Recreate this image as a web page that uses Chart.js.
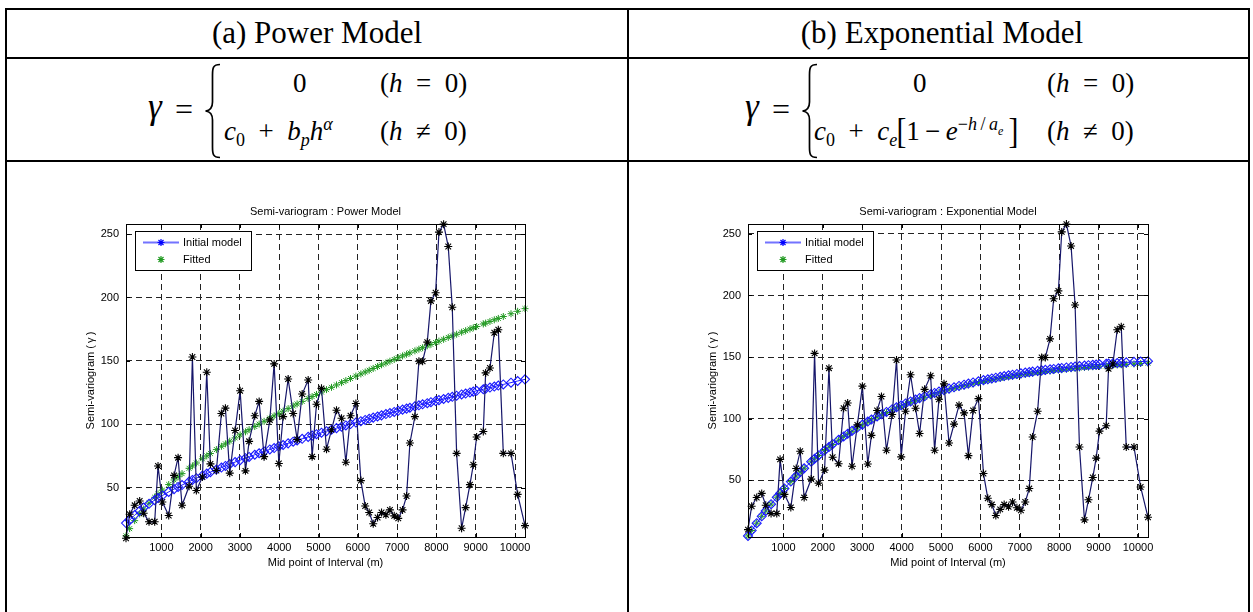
<!DOCTYPE html>
<html>
<head>
<meta charset="utf-8">
<title>Semi-variogram models</title>
<script src="https://cdn.jsdelivr.net/npm/chart.js@4.4.1/dist/chart.umd.min.js"></script>
<style>
    html, body { margin: 0; padding: 0; background: #fff; }
    body { width: 1253px; height: 612px; position: relative; overflow: hidden;
           font-family: 'Liberation Serif', 'Times New Roman', serif; color: #000; }
    .hl, .vl { position: absolute; background: #000; }
    .hl { height: 2px; }
    .vl { width: 2px; }
    .head { position: absolute; top: 13px; width: 620px; font-size: 31px; line-height: 40px; text-align: center; }
    .f { position: absolute; font-family: 'Liberation Serif', serif; font-size: 27px; line-height: 30px; white-space: nowrap; }
    .f sub, .f sup { font-size: 18px; line-height: 0; }
    .f sup sub { font-size: 12px; }
    .bk { display: inline-block; transform: scale(1.1, 1.35); }
    .brace { position: absolute; }
    canvas { position: absolute; }
</style>
</head>
<body>

<!-- table lines -->
<div class="hl" style="left:5px; top:8px; width:1245px;"></div>
<div class="hl" style="left:5px; top:57px; width:1245px;"></div>
<div class="hl" style="left:5px; top:160px; width:1245px;"></div>
<div class="vl" style="left:5px; top:8px; height:604px;"></div>
<div class="vl" style="left:627px; top:8px; height:604px;"></div>
<div class="vl" style="left:1248px; top:8px; height:604px;"></div>

<div class="head" style="left:7px;">(a) Power Model</div>
<div class="head" style="left:632px;">(b) Exponential Model</div>

<!-- (a) formula -->
<div class="f" style="left:148px; top:92px; font-size:35px;"><i>γ</i></div>
<div class="f" style="left:175px; top:94px; font-size:32px;">=</div>
<svg class="brace" style="left:204px; top:63px;" width="18" height="96" viewBox="0 0 18 96">
    <path d="M16,1.5 C9,1.5 8.5,5 8.5,12 L8.5,39 C8.5,45 6.5,47.5 1.5,48 C6.5,48.5 8.5,51 8.5,57 L8.5,84 C8.5,91 9,94.5 16,94.5" fill="none" stroke="#000" stroke-width="1.7"/>
</svg>
<div class="f" style="left:293px; top:68px;">0</div>
<div class="f" style="left:380px; top:68px;">(<i>h</i>&#8194;=&#8194;0)</div>
<div class="f" style="left:224px; top:116px;"><i>c</i><sub>0</sub>&#8194;+&#8194;<i>b</i><sub><i>p</i></sub><i>h</i><sup><i>α</i></sup></div>
<div class="f" style="left:380px; top:116px;">(<i>h</i>&#8194;≠&#8194;0)</div>

<!-- (b) formula -->
<div class="f" style="left:745px; top:92px; font-size:35px;"><i>γ</i></div>
<div class="f" style="left:772px; top:94px; font-size:32px;">=</div>
<svg class="brace" style="left:801px; top:63px;" width="18" height="96" viewBox="0 0 18 96">
    <path d="M16,1.5 C9,1.5 8.5,5 8.5,12 L8.5,39 C8.5,45 6.5,47.5 1.5,48 C6.5,48.5 8.5,51 8.5,57 L8.5,84 C8.5,91 9,94.5 16,94.5" fill="none" stroke="#000" stroke-width="1.7"/>
</svg>
<div class="f" style="left:913px; top:68px;">0</div>
<div class="f" style="left:1047px; top:68px;">(<i>h</i>&#8194;=&#8194;0)</div>
<div class="f" style="left:814px; top:116px;"><i>c</i><sub>0</sub>&#8194;+&#8194;<i>c</i><sub><i>e</i></sub><span class="bk">[</span>1&#8201;−&#8201;<i>e</i><sup>−<i>h</i>&#8201;/&#8201;<i>a</i><sub><i>e</i></sub></sup>&#8201;<span class="bk">]</span></div>
<div class="f" style="left:1047px; top:116px;">(<i>h</i>&#8194;≠&#8194;0)</div>

<canvas id="powerChart" width="500" height="384" style="left:60px; top:196px;"></canvas>
<canvas id="expChart" width="500" height="384" style="left:682px; top:196px;"></canvas>

<script>
// Mid point of each lag interval (m), shared by all series
var lagX = [100, 193, 321, 448, 550, 686, 830, 915, 1025, 1187,
    1323, 1425, 1526, 1705, 1790, 1891, 2044, 2155, 2248, 2400,
    2528, 2630, 2740, 2876, 3004, 3140, 3233, 3377, 3488, 3615,
    3760, 3870, 3989, 4099, 4226, 4354, 4455, 4583, 4736, 4837,
    4948, 5075, 5203, 5330, 5457, 5585, 5695, 5814, 5950, 6077,
    6187, 6289, 6391, 6502, 6603, 6714, 6816, 6926, 7028, 7138,
    7240, 7325, 7452, 7554, 7648, 7767, 7860, 7979, 8064, 8183,
    8301, 8403, 8514, 8641, 8743, 8853, 8938, 9023, 9193, 9252,
    9362, 9473, 9575, 9702, 9898, 10067, 10254];

// Experimental semi-variogram
var semivar = [10, 29, 36, 39.4, 29.8, 23, 23, 67, 38.6, 28,
    59.6, 73.6, 36, 51, 153, 47.7, 58.3, 141, 68.7, 63.5,
    108.5, 112.7, 61.4, 95, 126.4, 63.2, 86.5, 106.7, 118, 74.4,
    103.4, 147.6, 69, 106, 135.7, 108.5, 88, 123.8, 134.9, 74.4,
    115.8, 128.3, 80.3, 95.6, 111, 104.7, 70, 106.7, 116.3, 55.5,
    35.5, 30.3, 21.5, 26.4, 30.3, 28.5, 32.4, 27.7, 25.7, 32.4,
    43.3, 85.2, 106, 149.7, 149.7, 164.8, 197.3, 203.7, 251.6, 257.9,
    240.2, 192.3, 77, 17.9, 34.2, 52.3, 68, 89.9, 94.3, 140.5,
    144.4, 172.2, 174.6, 77, 77, 44.6, 20];

// Power model: initial and fitted
var powerInitial = [22, 24.3, 28.3, 31.7, 34.2, 37.2, 40.1, 41.7, 43.7, 46.6,
    48.8, 50.5, 52.0, 54.7, 56.0, 57.4, 59.5, 61.0, 62.2, 64.2,
    65.8, 67.1, 68.5, 70.1, 71.6, 73.2, 74.2, 75.9, 77.1, 78.5,
    80.1, 81.2, 82.5, 83.6, 84.9, 86.2, 87.2, 88.5, 90.0, 91.0,
    92.1, 93.3, 94.5, 95.7, 96.9, 98.0, 99.0, 100.1, 101.3, 102.4,
    103.4, 104.3, 105.2, 106.1, 107.0, 108.0, 108.8, 109.7, 110.6, 111.5,
    112.3, 113.0, 114.1, 114.9, 115.7, 116.6, 117.4, 118.3, 119.0, 119.9,
    120.8, 121.6, 122.5, 123.5, 124.2, 125.1, 125.7, 126.4, 127.6, 128.1,
    128.9, 129.7, 130.5, 131.4, 132.8, 134.1, 135.4];
var powerFitted = [11.9, 17.6, 23.9, 29.2, 33.1, 37.7, 42.3, 44.9, 48.0, 52.4,
    56.0, 58.5, 61.0, 65.2, 67.1, 69.4, 72.7, 75.0, 76.9, 80.0,
    82.6, 84.5, 86.6, 89.2, 91.6, 94.0, 95.7, 98.2, 100.1, 102.3,
    104.8, 106.6, 108.5, 110.3, 112.3, 114.4, 116.0, 118.0, 120.3, 121.8,
    123.5, 125.4, 127.3, 129.1, 131.0, 132.8, 134.4, 136.1, 138.0, 139.7,
    141.2, 142.6, 144.0, 145.5, 146.9, 148.3, 149.7, 151.1, 152.5, 153.9,
    155.2, 156.3, 157.9, 159.2, 160.4, 161.9, 163.0, 164.5, 165.6, 167.0,
    168.5, 169.7, 171.0, 172.6, 173.8, 175.1, 176.1, 177.1, 179.1, 179.8,
    181.1, 182.4, 183.5, 185.0, 187.2, 189.1, 191.2];

// Exponential model: initial and fitted
var expInitial = [4.9, 9.3, 15.2, 20.8, 25.1, 30.6, 36.2, 39.4, 43.4, 49.0,
    53.5, 56.7, 59.8, 65.1, 67.5, 70.2, 74.2, 77.0, 79.3, 82.8,
    85.6, 87.8, 90.1, 92.8, 95.2, 97.7, 99.3, 101.8, 103.6, 105.5,
    107.7, 109.3, 110.9, 112.4, 114.0, 115.5, 116.7, 118.2, 119.8, 120.9,
    122.0, 123.2, 124.4, 125.5, 126.6, 127.6, 128.5, 129.4, 130.4, 131.3,
    132.0, 132.7, 133.3, 134.0, 134.6, 135.2, 135.7, 136.3, 136.8, 137.4,
    137.8, 138.2, 138.8, 139.2, 139.6, 140.1, 140.4, 140.9, 141.2, 141.6,
    142.0, 142.3, 142.7, 143.1, 143.4, 143.7, 143.9, 144.1, 144.5, 144.7,
    144.9, 145.2, 145.4, 145.7, 146.1, 146.4, 146.7];
var expFitted = [4.9, 9.3, 15.2, 20.8, 25.1, 30.7, 36.3, 39.4, 43.4, 49.0,
    53.5, 56.7, 59.8, 65.0, 67.4, 70.1, 74.1, 76.9, 79.1, 82.6,
    85.4, 87.6, 89.8, 92.5, 94.9, 97.3, 99.0, 101.3, 103.1, 105.0,
    107.2, 108.7, 110.3, 111.7, 113.3, 114.9, 116.0, 117.4, 119.1, 120.1,
    121.2, 122.4, 123.5, 124.6, 125.7, 126.7, 127.5, 128.4, 129.4, 130.2,
    130.9, 131.6, 132.2, 132.8, 133.4, 134.0, 134.5, 135.1, 135.6, 136.1,
    136.6, 137.0, 137.5, 137.9, 138.3, 138.7, 139.1, 139.5, 139.8, 140.2,
    140.6, 140.9, 141.2, 141.6, 141.9, 142.2, 142.4, 142.6, 143.0, 143.1,
    143.4, 143.6, 143.8, 144.1, 144.5, 144.8, 145.1];

var xTicks = [1000, 2000, 3000, 4000, 5000, 6000, 7000, 8000, 9000, 10000];
var yTicks = [50, 100, 150, 200, 250];

var SANS = '"Liberation Sans", Arial, Helvetica, sans-serif';

function toPoints(ys) {
    return lagX.map(function (x, i) { return { x: x, y: ys[i] }; });
}

function drawStar(ctx, x, y, r, color) {
    var d = r * 0.72;
    ctx.strokeStyle = color;
    ctx.lineWidth = 1.2;
    ctx.beginPath();
    ctx.moveTo(x - r, y); ctx.lineTo(x + r, y);
    ctx.moveTo(x, y - r); ctx.lineTo(x, y + r);
    ctx.moveTo(x - d, y - d); ctx.lineTo(x + d, y + d);
    ctx.moveTo(x - d, y + d); ctx.lineTo(x + d, y - d);
    ctx.stroke();
}

// MATLAB-like frame: box, inward ticks, title, axis labels, legend
var matlabFrame = {
    id: 'matlabFrame',
    afterDraw: function (chart, args, opts) {
        var ctx = chart.ctx;
        var a = chart.chartArea;
        var xs = chart.scales.x, ys = chart.scales.y;
        ctx.save();
        ctx.strokeStyle = '#000';
        ctx.lineWidth = 1;
        ctx.beginPath();
        xTicks.forEach(function (v) {
            var px = Math.round(xs.getPixelForValue(v)) + 0.5;
            ctx.moveTo(px, a.bottom); ctx.lineTo(px, a.bottom - 4);
            ctx.moveTo(px, a.top); ctx.lineTo(px, a.top + 4);
        });
        yTicks.forEach(function (v) {
            var py = Math.round(ys.getPixelForValue(v)) + 0.5;
            ctx.moveTo(a.left, py); ctx.lineTo(a.left + 4, py);
            ctx.moveTo(a.right, py); ctx.lineTo(a.right - 4, py);
        });
        ctx.stroke();
        ctx.strokeRect(Math.round(a.left) + 0.5, Math.round(a.top) + 0.5,
            Math.round(a.right - a.left), Math.round(a.bottom - a.top));

        ctx.fillStyle = '#000';
        ctx.font = '11px ' + SANS;
        ctx.textAlign = 'center';
        ctx.textBaseline = 'middle';
        var cx = (a.left + a.right) / 2;
        ctx.fillText(opts.title, cx, a.top - 12);
        ctx.fillText('Mid point of Interval (m)', cx, a.bottom + 26);
        ctx.save();
        ctx.translate(a.left - 35, (a.top + a.bottom) / 2);
        ctx.rotate(-Math.PI / 2);
        ctx.fillText('Semi-variogram (\u2009\u03b3\u2009)', 0, 0);
        ctx.restore();

        // legend box
        var bx = Math.round(a.left) + 9, by = Math.round(a.top) + 7;
        ctx.fillStyle = '#fff';
        ctx.fillRect(bx, by, 116, 39);
        ctx.strokeStyle = '#000';
        ctx.strokeRect(bx + 0.5, by + 0.5, 116, 39);
        ctx.strokeStyle = '#7373ff';
        ctx.lineWidth = 2;
        ctx.beginPath();
        ctx.moveTo(bx + 8, by + 11.5); ctx.lineTo(bx + 44, by + 11.5);
        ctx.stroke();
        drawStar(ctx, bx + 26, by + 11.5, 3.5, '#0000ff');
        drawStar(ctx, bx + 26, by + 28.5, 3.5, '#229a22');
        ctx.fillStyle = '#000';
        ctx.textAlign = 'left';
        ctx.fillText('Initial model', bx + 48, by + 11.5);
        ctx.fillText('Fitted', bx + 48, by + 28.5);
        ctx.restore();
    }
};

function makeChart(id, title, initial, fitted, yMin, rightPad) {
    var ctx = document.getElementById(id);
    return new Chart(ctx, {
        type: 'scatter',
        data: {
            datasets: [{
                label: 'Semi-variogram',
                data: toPoints(semivar),
                showLine: true,
                borderColor: '#16166a',
                borderWidth: 1.2,
                pointStyle: 'star',
                pointRadius: 4,
                pointBorderColor: '#000',
                pointBorderWidth: 1.1,
                clip: false
            }, {
                label: 'Initial model',
                data: toPoints(initial),
                showLine: true,
                borderColor: '#1a1aff',
                borderWidth: 1,
                pointStyle: 'rectRot',
                pointRadius: 4.5,
                pointBorderColor: '#1a1aff',
                pointBackgroundColor: 'rgba(0,0,0,0)',
                pointBorderWidth: 1.1,
                clip: false
            }, {
                label: 'Fitted',
                data: toPoints(fitted),
                showLine: false,
                pointStyle: 'star',
                pointRadius: 3.5,
                pointBorderColor: '#229a22',
                pointBorderWidth: 1,
                clip: false
            }]
        },
        options: {
            responsive: false,
            animation: false,
            devicePixelRatio: 1,
            layout: {
                padding: { left: 0, right: rightPad, top: 28, bottom: 0 }
            },
            plugins: {
                legend: { display: false },
                tooltip: { enabled: false },
                matlabFrame: { title: title }
            },
            scales: {
                x: {
                    type: 'linear',
                    min: 100,
                    max: 10254,
                    afterBuildTicks: function (s) {
                        s.ticks = xTicks.map(function (v) { return { value: v }; });
                    },
                    afterFit: function (s) { s.height = 43; },
                    grid: { color: '#222', lineWidth: 1, drawTicks: false },
                    border: { display: false, dash: [6, 4] },
                    ticks: {
                        padding: 4,
                        maxRotation: 0,
                        autoSkip: false,
                        color: '#000',
                        font: { size: 11, family: SANS },
                        callback: function (v) { return String(v); }
                    }
                },
                y: {
                    type: 'linear',
                    min: yMin,
                    max: 258,
                    afterBuildTicks: function (s) {
                        s.ticks = yTicks.map(function (v) { return { value: v }; });
                    },
                    afterFit: function (s) { s.width = 66; },
                    grid: { color: '#222', lineWidth: 1, drawTicks: false },
                    border: { display: false, dash: [6, 4] },
                    ticks: {
                        padding: 7,
                        color: '#000',
                        font: { size: 11, family: SANS },
                        callback: function (v) { return String(v); }
                    }
                }
            }
        },
        plugins: [matlabFrame]
    });
}

makeChart('powerChart', 'Semi-variogram : Power Model', powerInitial, powerFitted, 11, 35);
makeChart('expChart', 'Semi-variogram : Exponential Model', expInitial, expFitted, 4, 34);
</script>
</body>
</html>
